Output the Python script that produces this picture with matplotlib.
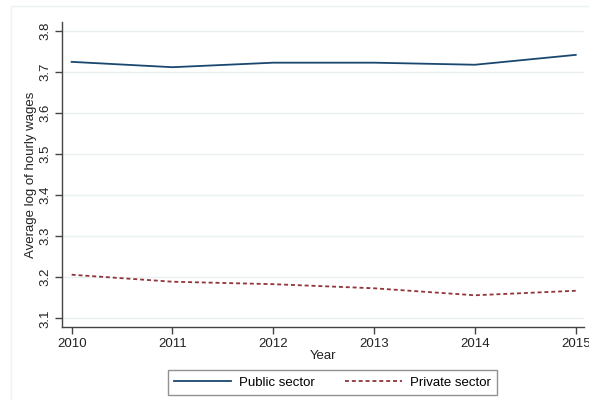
import matplotlib
matplotlib.use('Agg')
import matplotlib.pyplot as plt
from matplotlib.patches import Rectangle

plt.rcParams['font.family'] = ['Liberation Sans', 'DejaVu Sans']

years = [2010, 2011, 2012, 2013, 2014, 2015]
public = [3.724, 3.711, 3.722, 3.722, 3.717, 3.741]
private = [3.206, 3.189, 3.183, 3.173, 3.156, 3.167]
yticks = [3.1, 3.2, 3.3, 3.4, 3.5, 3.6, 3.7, 3.8]

W, H = 589, 400
fs = 9.5
fig = plt.figure(figsize=(W / 100, H / 100), dpi=100)
fig.patch.set_facecolor('white')

# light outer frame of the graph region
fig.patches.append(Rectangle((10.5 / W, -0.05), 1.0, (H - 6) / H + 0.05,
                             transform=fig.transFigure, fill=False,
                             edgecolor='#eef2f3', linewidth=1.0))

left, right, bottom, top = 62.3, 584, 327, 22
ax = fig.add_axes([left / W, 1 - bottom / H, (right - left) / W, (bottom - top) / H])

ax.plot(years, public, color='#1a476f', linewidth=1.3, label='Public sector')
ax.plot(years, private, color='#90353b', linewidth=1.3, linestyle=(0, (2.2, 1.6)),
        label='Private sector')

ax.set_xlim(2009.907, 2015.082)
ax.set_ylim(3.0788, 3.821)
ax.set_xticks(years)
ax.set_yticks(yticks)
ax.set_yticklabels(['%.1f' % v for v in yticks], rotation=90, va='center')
ax.grid(axis='y', color='#eaf0f2', linewidth=1.0)
ax.set_axisbelow(True)

for s in ['top', 'right']:
    ax.spines[s].set_visible(False)
for s in ['left', 'bottom']:
    ax.spines[s].set_color('#444444')
    ax.spines[s].set_linewidth(1.0)
ax.tick_params(axis='both', direction='out', length=5, width=1.0, color='#444444',
               labelsize=fs, labelcolor='#222222', pad=3)

ax.set_xlabel('Year', fontsize=fs, color='#222222', labelpad=0)
ax.set_ylabel('Average log of hourly wages', fontsize=fs, color='#222222', labelpad=1.5)

leg = fig.legend(loc='center', bbox_to_anchor=((168 + 497) / 2 / W, 1 - 382.5 / H),
                 ncol=2, fontsize=fs, frameon=True, fancybox=False,
                 handlelength=4.3, columnspacing=2.3, borderpad=0.5, handletextpad=0.6)
leg.get_frame().set_edgecolor('#777777')
leg.get_frame().set_linewidth(1.0)

fig.savefig('out.png', dpi=100)
